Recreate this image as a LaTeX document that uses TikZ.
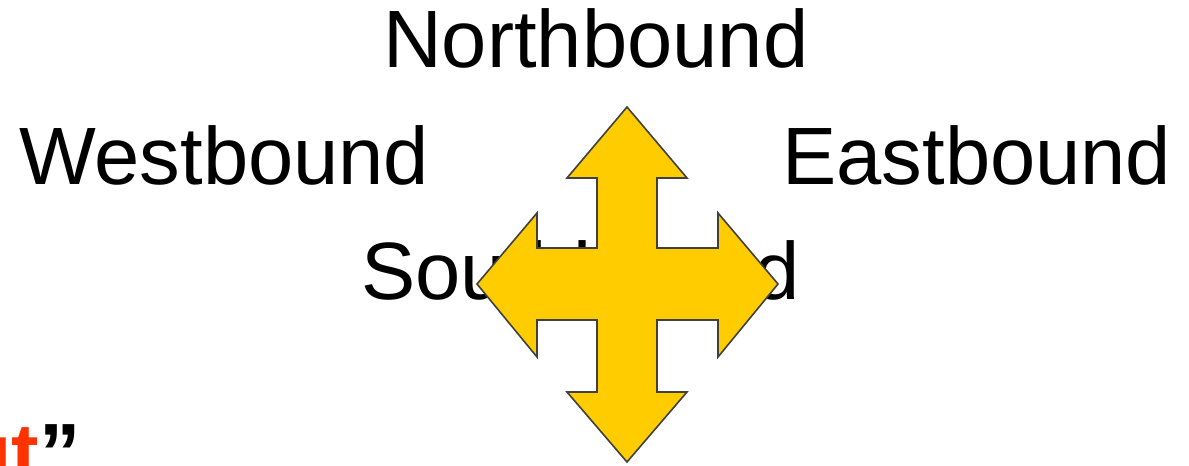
\documentclass[tikz,border=0pt]{standalone}
\usepackage{fontspec}
\setmainfont{Liberation Sans}
\usepackage{xcolor}
\usepackage{tikz}
\usetikzlibrary{positioning}
\definecolor{arrowYellow}{RGB}{255,204,0}
\definecolor{arrowEdge}{RGB}{64,64,64}
\definecolor{quoteRed}{RGB}{255,51,0}

\begin{document}
\begin{tikzpicture}[x=0.75pt,y=-0.75pt,
    dirlabel/.style={inner sep=0pt, anchor=base west, font=\fontsize{61}{61}\selectfont}]
    \clip (0,0) rectangle (1189,466);
    \useasboundingbox (0,0) rectangle (1189,466);
    \fill[white] (0,0) rectangle (1189,466);

    \node[dirlabel] (north) at (383,68) {Northbound};
    \node[dirlabel] (west) at (19,185) {Westbound};
    \node[dirlabel] (east) at (782,185) {Eastbound};
    \node[dirlabel] (south) at (361,300) {Southbound};
    \node[dirlabel, font=\fontsize{62}{62}\selectfont\bfseries] (quote) at (-39,482)
        {\textcolor{quoteRed}{ut}”};

    % four-way arrow
    \draw[arrowEdge, fill=arrowYellow, line width=1.2pt, line join=miter]
        (627,107) -- (687,178) -- (657,178) -- (657,248) -- (718,248) -- (718,213)
        -- (778,284) -- (718,357) -- (718,320) -- (657,320) -- (657,392)
        -- (687,392) -- (627,462) -- (567,392) -- (597,392) -- (597,320)
        -- (537,320) -- (537,357) -- (477,284) -- (537,213) -- (537,248)
        -- (597,248) -- (597,178) -- (567,178) -- cycle;
\end{tikzpicture}
\end{document}
